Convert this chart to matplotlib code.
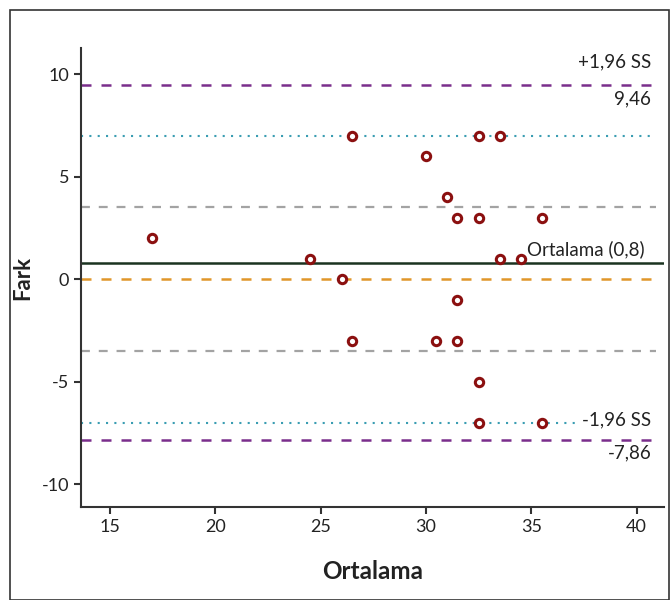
import matplotlib
matplotlib.use('Agg')
import matplotlib.pyplot as plt
from matplotlib.patches import Rectangle
from matplotlib.ticker import FuncFormatter

plt.rcParams['font.family'] = ['Lato', 'DejaVu Sans']

# Bland-Altman data
ortalama = [17, 24.5, 26, 26.5, 26.5, 30, 30.5, 31, 31.5, 31.5, 31.5,
            32.5, 32.5, 32.5, 32.5, 33.5, 33.5, 34.5, 35.5, 35.5]
fark = [2, 1, 0, 7, -3, 6, -3, 4, 3, -1, -3,
        7, 3, -5, -7, 7, 1, 1, 3, -7]

mean_diff = 0.8
upper_loa = 9.46
lower_loa = -7.86
sd2_up, sd2_lo = 7, -7
sd1_up, sd1_lo = 3.5, -3.5
zero = 0

fig = plt.figure(figsize=(6.72, 6.0), dpi=100)
fig.patches.append(Rectangle((0.0149, 0.0), 0.9805, 0.983, transform=fig.transFigure,
                             fill=False, edgecolor='#333333', lw=1.2))
ax = fig.add_axes([0.1205, 0.155, 0.8675, 0.765])

xmin, xmax = 13.63, 41.3
ax.set_xlim(xmin, xmax)
ax.set_ylim(-11.12, 11.27)

xs = [xmin, 40.9]
ax.plot(xs, [upper_loa] * 2, color='#7A2E8C', lw=1.8, ls=(0, (4, 4)))
ax.plot(xs, [lower_loa] * 2, color='#7A2E8C', lw=1.8, ls=(0, (4, 4)))
ax.plot(xs, [sd2_up] * 2, color='#3A9DB2', lw=1.5, ls=(0, (1, 3)))
ax.plot(xs, [sd2_lo] * 2, color='#3A9DB2', lw=1.5, ls=(0, (1, 3)))
ax.plot(xs, [sd1_up] * 2, color='#A3A3A3', lw=1.6, ls=(0, (4, 4)))
ax.plot(xs, [sd1_lo] * 2, color='#A3A3A3', lw=1.6, ls=(0, (4, 4)))
ax.plot(xs, [zero] * 2, color='#E0962A', lw=1.8, ls=(0, (4, 4)))
ax.plot([xmin, xmax], [mean_diff] * 2, color='#1A3320', lw=1.8)

ax.scatter(ortalama, fark, s=36, facecolor='white', edgecolor='#8B1010',
           linewidth=2.2, zorder=5)

fs = 13.5
ax.text(40.7, 10.6, '+1,96 SS', ha='right', va='center', fontsize=fs, color='#222222')
ax.text(40.7, 8.8, '9,46', ha='right', va='center', fontsize=fs, color='#222222')
ax.text(34.8, 1.45, 'Ortalama (0,8)', ha='left', va='center', fontsize=fs, color='#222222')
ax.text(40.7, -6.85, '-1,96 SS', ha='right', va='center', fontsize=fs, color='#222222',
        bbox=dict(facecolor='white', edgecolor='none', pad=1), zorder=6)
ax.text(40.7, -8.5, '-7,86', ha='right', va='center', fontsize=fs, color='#222222')

ax.set_xticks([15, 20, 25, 30, 35, 40])
ax.set_yticks([-10, -5, 0, 5, 10])
ax.yaxis.set_major_formatter(FuncFormatter(lambda v, p: f'{v:.0f}'))
ax.tick_params(labelsize=13, length=5, width=1.5, color='#333333', labelcolor='#222222')
for s in ['top', 'right']:
    ax.spines[s].set_visible(False)
for s in ['left', 'bottom']:
    ax.spines[s].set_color('#333333')
    ax.spines[s].set_linewidth(1.5)

ax.set_xlabel('Ortalama', fontsize=17.5, fontweight='bold', color='#222222', labelpad=18)
ax.set_ylabel('Fark', fontsize=16, fontweight='bold', color='#222222', labelpad=6)

fig.savefig('out.png', dpi=100)
